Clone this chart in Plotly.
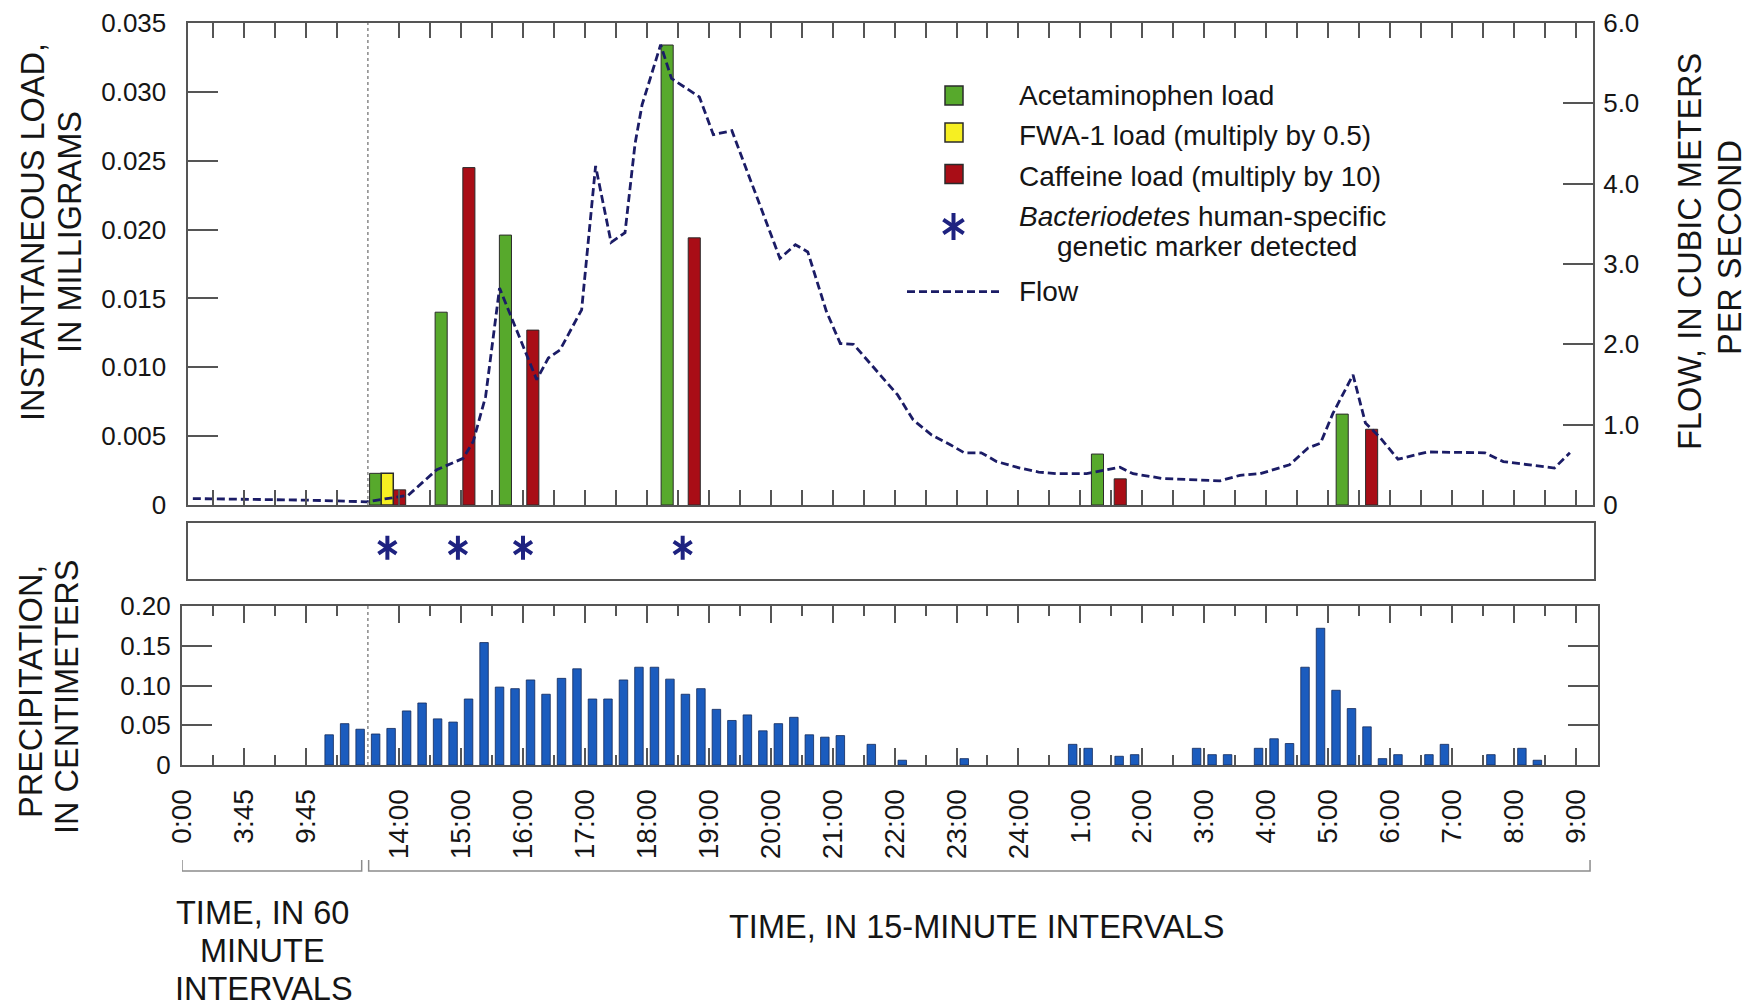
import plotly.graph_objects as go

W, H = 1762, 1006
FONT = "Liberation Sans, Arial, Helvetica, sans-serif"

# ---------------- data ----------------
# Time is counted in 15-minute slots from the start of the record.
time_tick_slot = [0, 4, 8, 14, 18, 22, 26, 30, 34, 38, 42, 46, 50, 54,
                  58, 62, 66, 70, 74, 78, 82, 86, 90]
time_tick_label = ["0:00", "3:45", "9:45", "14:00", "15:00", "16:00", "17:00",
                   "18:00", "19:00", "20:00", "21:00", "22:00", "23:00", "24:00",
                   "1:00", "2:00", "3:00", "4:00", "5:00", "6:00", "7:00", "8:00", "9:00"]
split_slot = 12  # boundary between 60-minute and 15-minute sections

acet_slot = [12.5, 16.73, 20.88, 31.32, 59.1, 74.9]
acet_load = [0.0023, 0.0140, 0.0196, 0.0334, 0.0037, 0.0066]
fwa_slot = [13.25]
fwa_load = [0.0023]
caff_slot = [14.05, 18.52, 22.65, 33.07, 60.57, 76.8]
caff_load = [0.0011, 0.0245, 0.0127, 0.0194, 0.0019, 0.0055]
marker_slot = [13.25, 17.8, 22.0, 32.3]

flow_slot = [0.7, 4.2, 8.2, 11.9, 14.6, 16.45, 18.15, 18.8, 19.6, 20.5,
             22.9, 23.65, 24.4, 25.8, 26.7, 27.7, 28.6, 29.25, 29.7, 30.9,
             31.6, 33.4, 34.3, 35.5, 36.8, 38.6, 39.6, 40.4, 41.6, 42.5,
             43.35, 44.95, 46.2, 47.2, 48.4, 49.6, 50.5, 51.6, 52.6, 54.1,
             55.3, 56.5, 58.4, 60.55, 61.4, 63.3, 67.0, 68.3, 69.6, 71.5,
             72.7, 73.5, 74.3, 75.6, 76.4, 77.3, 78.5, 80.4, 84.1, 85.3,
             88.6, 89.6]
flow_cms = [0.08, 0.07, 0.06, 0.04, 0.12, 0.44, 0.58, 0.79, 1.35, 2.70,
            1.56, 1.83, 1.93, 2.43, 4.22, 3.27, 3.39, 4.50, 4.98, 5.73,
            5.31, 5.08, 4.61, 4.66, 4.00, 3.07, 3.24, 3.15, 2.41, 2.01,
            2.00, 1.64, 1.37, 1.06, 0.87, 0.75, 0.65, 0.65, 0.54, 0.46,
            0.41, 0.39, 0.39, 0.47, 0.39, 0.33, 0.30, 0.37, 0.39, 0.50,
            0.71, 0.77, 1.14, 1.62, 1.02, 0.85, 0.57, 0.66, 0.65, 0.54,
            0.46, 0.65]

precip_interval = [9, 10, 11, 12, 13, 14, 15, 16, 17, 18, 19, 20, 21, 22, 23, 24, 25,
                   26, 27, 28, 29, 30, 31, 32, 33, 34, 35, 36, 37, 38, 39, 40, 41, 42,
                   44, 46, 50, 57, 58, 60, 61, 65, 66, 67, 69, 70, 71, 72, 73, 74, 75,
                   76, 77, 78, 80, 81, 84, 86, 87]
precip_cm = [0.038, 0.052, 0.045, 0.039, 0.046, 0.068, 0.078, 0.058, 0.054, 0.083,
             0.154, 0.098, 0.096, 0.107, 0.089, 0.109, 0.121, 0.083, 0.083, 0.107,
             0.123, 0.123, 0.108, 0.089, 0.096, 0.070, 0.056, 0.063, 0.043, 0.052,
             0.060, 0.038, 0.035, 0.037, 0.026, 0.006, 0.008, 0.026, 0.021, 0.011,
             0.013, 0.021, 0.013, 0.013, 0.021, 0.033, 0.027, 0.123, 0.172, 0.094,
             0.071, 0.048, 0.008, 0.013, 0.013, 0.026, 0.013, 0.021, 0.006]

load_ticks = [0, 0.005, 0.010, 0.015, 0.020, 0.025, 0.030, 0.035]
load_tick_text = ["0", "0.005", "0.010", "0.015", "0.020", "0.025", "0.030", "0.035"]
flow_ticks = [0, 1, 2, 3, 4, 5, 6]
flow_tick_text = ["0", "1.0", "2.0", "3.0", "4.0", "5.0", "6.0"]
precip_ticks = [0, 0.05, 0.10, 0.15, 0.20]
precip_tick_text = ["0", "0.05", "0.10", "0.15", "0.20"]

# ---------------- style ----------------
GREEN = "#57a92c"
YELLOW = "#f6ef22"
RED = "#a90d16"
BLUE = "#1b5cbe"
NAVY = "#1b1c66"
STAR = "#1e2280"
EDGE = "#2b2b2b"
AX = "#555555"
TXT = "#151515"
TITLE_SIZE = 32.5
LEG_SIZE = 28

# layout in pixels
TOP = dict(x0=187.5, x1=1593, y0=23, y1=505)
BAND = dict(x0=187.5, x1=1594, y0=523, y1=579)
PREC = dict(x0=182, x1=1598, y0=606, y1=765)
SLOT_PX = 15.49  # pixel width of one 15-minute slot


def xdom(b):
    return [b["x0"] / W, b["x1"] / W]


def ydom(b):
    return [1 - b["y1"] / H, 1 - b["y0"] / H]


top_range = [(TOP["x0"] - PREC["x0"]) / SLOT_PX, (TOP["x1"] - PREC["x0"]) / SLOT_PX]
prec_range = [0, (PREC["x1"] - PREC["x0"]) / SLOT_PX]

fig = go.Figure()

# load bars (top panel)
fig.add_trace(go.Bar(x=acet_slot, y=acet_load, width=0.78, name="Acetaminophen load",
                     marker=dict(color=GREEN, line=dict(color=EDGE, width=1)),
                     xaxis="x", yaxis="y"))
fig.add_trace(go.Bar(x=fwa_slot, y=fwa_load, width=0.78, name="FWA-1 load",
                     marker=dict(color=YELLOW, line=dict(color=EDGE, width=1.5)),
                     xaxis="x", yaxis="y"))
fig.add_trace(go.Bar(x=caff_slot, y=caff_load, width=0.78, name="Caffeine load",
                     marker=dict(color=RED, line=dict(color=EDGE, width=1)),
                     xaxis="x", yaxis="y"))
# flow line (right axis)
fig.add_trace(go.Scatter(x=flow_slot, y=flow_cms, mode="lines", name="Flow",
                         line=dict(color=NAVY, width=2.8, dash="8px,4px"),
                         xaxis="x", yaxis="y2"))
# marker detections (band)
for sym in ["y-up-open", "y-down-open"]:
    fig.add_trace(go.Scatter(x=marker_slot, y=[0.56] * len(marker_slot), mode="markers",
                             marker=dict(symbol=sym, size=15, color=STAR,
                                         line=dict(width=4)),
                             xaxis="x2", yaxis="y3"))
# precipitation bars
fig.add_trace(go.Bar(x=[k + 0.5 for k in precip_interval], y=precip_cm, width=0.55,
                     name="Precipitation",
                     marker=dict(color=BLUE, line=dict(color="#12285a", width=0.8)),
                     xaxis="x3", yaxis="y4"))

# legend asterisk on a pixel-space overlay
for sym in ["y-up-open", "y-down-open"]:
    fig.add_trace(go.Scatter(x=[953.5], y=[226.5], mode="markers",
                             marker=dict(symbol=sym, size=17, color=STAR, line=dict(width=4)),
                             xaxis="x4", yaxis="y5"))

tickfont = dict(family=FONT, size=26, color=TXT)
common_line = dict(showline=True, linecolor=AX, linewidth=2, showgrid=False, zeroline=False,
                   tickcolor=AX, tickwidth=1.5, automargin=False)

top_xticks = [v for v in range(2, 91, 2) if v != split_slot]
minor_ticks = [2, 6, 10] + list(range(16, 90, 4))

fig.update_layout(
    template="none",
    width=W, height=H, margin=dict(l=0, r=0, t=0, b=0, pad=0, autoexpand=False),
    paper_bgcolor="white", plot_bgcolor="rgba(0,0,0,0)",
    showlegend=False, barmode="overlay", font=dict(family=FONT, color=TXT),
    xaxis=dict(domain=xdom(TOP), range=top_range, anchor="y", mirror="ticks",
               ticks="inside", ticklen=15, tickmode="array", tickvals=top_xticks,
               showticklabels=False, **common_line),
    yaxis=dict(domain=ydom(TOP), range=[0, 0.035], anchor="x", ticks="inside", ticklen=30,
               tickmode="array", tickvals=load_ticks, ticktext=load_tick_text,
               tickfont=tickfont, ticklabelstandoff=14, **common_line),
    yaxis2=dict(overlaying="y", side="right", range=[0, 6], anchor="x", ticks="inside",
                ticklen=30, tickmode="array", tickvals=flow_ticks, ticktext=flow_tick_text,
                tickfont=tickfont, ticklabelstandoff=3, **common_line),
    xaxis2=dict(domain=xdom(BAND), range=top_range, anchor="y3", mirror=True, ticks="",
                showticklabels=False, **common_line),
    yaxis3=dict(domain=ydom(BAND), range=[0, 1], anchor="x2", mirror=True, ticks="",
                showticklabels=False, **common_line),
    xaxis3=dict(domain=xdom(PREC), range=prec_range, anchor="y4", mirror="ticks",
                ticks="inside", ticklen=17, tickmode="array", tickvals=time_tick_slot,
                ticktext=time_tick_label, tickangle=-90, ticklabelstandoff=11,
                tickfont=dict(family=FONT, size=28, color=TXT),
                minor=dict(tickmode="array", tickvals=minor_ticks, ticks="inside",
                           ticklen=10, tickcolor=AX, tickwidth=1.5, showgrid=False),
                **common_line),
    yaxis4=dict(domain=ydom(PREC), range=[0, 0.2], anchor="x3", mirror="ticks",
                ticks="inside", ticklen=30, tickmode="array", tickvals=precip_ticks,
                ticktext=precip_tick_text, tickfont=tickfont, ticklabelstandoff=4,
                **common_line),
    xaxis4=dict(domain=[0, 1], range=[0, W], anchor="y5", visible=False, automargin=False),
    yaxis5=dict(domain=[0, 1], range=[H, 0], anchor="x4", visible=False, automargin=False),
)

shapes = []
# dotted split lines
shapes.append(dict(type="line", xref="x", yref="y domain", x0=split_slot, x1=split_slot,
                   y0=0, y1=1, line=dict(color="#888888", width=1.5, dash="dot")))
shapes.append(dict(type="line", xref="x3", yref="y4 domain", x0=split_slot, x1=split_slot,
                   y0=0, y1=1, line=dict(color="#888888", width=1.5, dash="dot")))
# brackets under the time axis
yb, yt = 1 - 871 / H, 1 - 860 / H
for a, b in [(0, split_slot - 0.4), (split_slot + 0.05, 90.9)]:
    shapes.append(dict(type="path", xref="x3", yref="paper",
                       path=f"M {a},{yt} L {a},{yb} L {b},{yb} L {b},{yt}",
                       line=dict(color="#8c8c8c", width=1.5)))
# legend swatches (pixel overlay)
for yc, col in [(95.5, GREEN), (132.5, YELLOW), (174, RED)]:
    shapes.append(dict(type="rect", xref="x4", yref="y5", x0=945, x1=963,
                       y0=yc - 9.5, y1=yc + 9.5, fillcolor=col,
                       line=dict(color=EDGE, width=1.5)))
shapes.append(dict(type="line", xref="x4", yref="y5", x0=907, x1=1000, y0=291.7, y1=291.7,
                   line=dict(color=NAVY, width=2.8, dash="8px,4px")))
fig.update_layout(shapes=shapes)

ann = []


def txt(x, y, s, size=LEG_SIZE, angle=0, xanchor="center"):
    ann.append(dict(xref="x4", yref="y5", x=x, y=y, text=s, showarrow=False,
                    textangle=angle, xanchor=xanchor, yanchor="middle",
                    font=dict(family=FONT, size=size, color=TXT)))


# legend text
txt(1017, 95, "Acetaminophen load", xanchor="left")
txt(1017, 135, "FWA-1 load (multiply by 0.5)", xanchor="left")
txt(1017, 176.5, "Caffeine load (multiply by 10)", xanchor="left")
txt(1017, 216.5, "<i>Bacteriodetes</i> human-specific", xanchor="left")
txt(1207, 246.5, "genetic marker detected")
txt(1017, 291.5, "Flow", xanchor="left")
# axis titles
txt(33, 232, "INSTANTANEOUS LOAD,", size=TITLE_SIZE, angle=-90)
txt(70, 232, "IN MILLIGRAMS", size=TITLE_SIZE, angle=-90)
txt(1690, 252, "FLOW, IN CUBIC METERS", size=TITLE_SIZE, angle=-90)
txt(1730, 248, "PER SECOND", size=TITLE_SIZE, angle=-90)
txt(31, 692, "PRECIPITATION,", size=TITLE_SIZE, angle=-90)
txt(67, 697, "IN CENTIMETERS", size=TITLE_SIZE, angle=-90)
txt(262, 912.5, "TIME, IN 60", size=TITLE_SIZE)
txt(262, 951, "MINUTE", size=TITLE_SIZE)
txt(264, 989, "INTERVALS", size=TITLE_SIZE)
txt(976, 927, "TIME, IN 15-MINUTE INTERVALS", size=TITLE_SIZE)
fig.update_layout(annotations=ann)

fig.write_html("out.html")
